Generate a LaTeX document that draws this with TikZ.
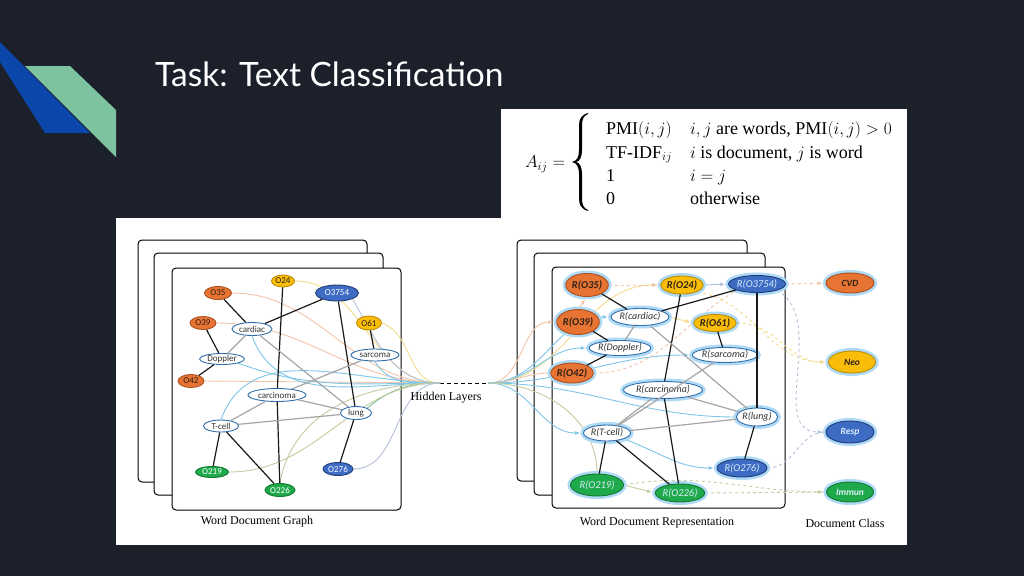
\documentclass[tikz,border=0pt]{standalone}
\usepackage{fontspec}
\setmainfont{Liberation Serif}
\newfontfamily\lato{Lato}
\newfontfamily\carlito{Carlito}
\usetikzlibrary{shapes.geometric,arrows.meta,backgrounds}

\definecolor{slidebg}{RGB}{27,32,43}
\definecolor{decoblue}{RGB}{11,71,170}
\definecolor{decogreen}{RGB}{125,195,160}
\definecolor{orangeF}{RGB}{232,116,52}
\definecolor{orangeD}{RGB}{170,80,30}
\definecolor{yellowF}{RGB}{250,190,10}
\definecolor{yellowD}{RGB}{190,140,0}
\definecolor{blueF}{RGB}{62,108,196}
\definecolor{blueD}{RGB}{30,60,120}
\definecolor{greenF}{RGB}{30,170,75}
\definecolor{greenD}{RGB}{20,120,50}
\definecolor{wordD}{RGB}{50,110,170}
\definecolor{glowc}{RGB}{175,218,246}
\definecolor{edgeK}{RGB}{25,25,25}
\definecolor{edgeG}{RGB}{165,165,165}
\definecolor{fPeach}{RGB}{242,196,170}
\definecolor{fYellow}{RGB}{245,220,140}
\definecolor{fBlue}{RGB}{125,198,232}
\definecolor{fOlive}{RGB}{196,204,160}
\definecolor{fGreen}{RGB}{125,192,152}
\definecolor{fSlate}{RGB}{178,192,218}
\definecolor{txtD}{RGB}{45,32,20}

\begin{document}
\begin{tikzpicture}
  [x=1pt,y=-1pt,every node/.style={inner sep=0pt},
   gnode/.style={ellipse,line width=0.9pt,font=\carlito\fontsize{9}{9}\selectfont},
   word/.style={gnode,draw=wordD,fill=white,text=black!80},
   orng/.style={gnode,draw=orangeD,fill=orangeF,text=txtD},
   yell/.style={gnode,draw=yellowD,fill=yellowF,text=txtD},
   blu/.style={gnode,draw=blueD,fill=blueF,text=white},
   grn/.style={gnode,draw=greenD,fill=greenF,text=white},
   rep/.style={preaction={draw=glowc,line width=6pt},font=\carlito\itshape\fontsize{10}{10}\selectfont},
   rcol/.style={font=\carlito\bfseries\itshape\fontsize{10.5}{10.5}\selectfont},
   rlit/.style={font=\carlito\itshape\fontsize{10.5}{10.5}\selectfont,text=glowc!45!white},
   sz/.style 2 args={minimum width=#1pt,minimum height=#2pt},
   blk/.style={draw=edgeK,line width=1.2pt},
   gry/.style={draw=edgeG,line width=1.2pt},
   flow/.style={line width=0.9pt},
   farr/.style={flow,shorten >=3pt,-{Latex[length=5pt,width=4pt]}},
   card/.style={draw,rounded corners=4pt,line width=1pt,fill=white},
   capt/.style={font=\fontsize{12}{12}\selectfont},
   frm/.style={anchor=base west,font=\fontsize{18}{20}\selectfont}]
  \useasboundingbox (0,0) rectangle (1024,576);

  % title and formula
  \node[anchor=base west,text=white,font=\lato\fontsize{33.5}{36}\selectfont] (title) at (155,86) {Task: Text Classification};
  \node[font=\fontsize{18}{20}\selectfont] (aij) at (545,164) {$A_{ij}=$};
  \node[frm] (r1a) at (606,134) {PMI$(i,j)$};
  \node[frm] (r1b) at (690,134) {$i,j$ are words, PMI$(i,j)>0$};
  \node[frm] (r2a) at (606,158) {TF-IDF$_{ij}$};
  \node[frm] (r2b) at (690,158) {$i$ is document, $j$ is word};
  \node[frm] (r3a) at (606,181) {1};
  \node[frm] (r3b) at (690,181) {$i=j$};
  \node[frm] (r4a) at (606,204) {0};
  \node[frm] (r4b) at (690,204) {otherwise};
  \fill (588,113) .. controls (581,115) and (579,119) .. (579,126) -- (579,150)
    .. controls (579,157) and (577,161) .. (572,162) .. controls (577,163) and (579,167) .. (579,174)
    -- (579,198) .. controls (579,205) and (581,209) .. (588,211)
    -- (588,210) .. controls (583,208) and (582,204) .. (582,198) -- (582,174)
    .. controls (582,167) and (580,163) .. (576,162) .. controls (580,161) and (582,157) .. (582,150)
    -- (582,126) .. controls (582,120) and (583,116) .. (588,114) -- cycle;

  % word document graph
  \node[yell,sz={23}{12}] (O24) at (283,281) {O24};
  \node[orng,sz={27}{13}] (O35) at (218,293) {O35};
  \node[blu,sz={43}{16}] (O3754) at (337,293) {O3754};
  \node[orng,sz={26}{13}] (O39) at (203,323) {O39};
  \node[word,sz={40}{13}] (cardiac) at (252,329) {cardiac};
  \node[yell,sz={25}{14}] (O61) at (369,323) {O61};
  \node[word,sz={48}{12}] (sarcoma) at (375,355) {sarcoma};
  \node[word,sz={45}{11}] (Doppler) at (222,359) {Doppler};
  \node[orng,sz={26}{13}] (O42) at (191,381) {O42};
  \node[word,sz={58}{13}] (carcinoma) at (277,395) {carcinoma};
  \node[word,sz={31}{13}] (lung) at (356,413) {lung};
  \node[word,sz={35}{12}] (Tcell) at (221,426) {T-cell};
  \node[grn,sz={33}{11}] (O219) at (212,472) {O219};
  \node[blu,sz={30}{13}] (O276) at (338,469) {O276};
  \node[grn,sz={30}{13}] (O226) at (280,490) {O226};
  \path[blk]
    (O35) edge (cardiac)
    (O3754) edge (cardiac)
    (O39) edge (Doppler)
    (Doppler) edge (O42)
    (O24) edge (carcinoma)
    (carcinoma) edge (O226)
    (O3754) edge (lung)
    (O61) edge (sarcoma)
    (lung) edge (O276)
    (Tcell) edge (O219)
    (Tcell) edge (O226);
  \path[gry]
    (cardiac) edge (Doppler)
    (cardiac) edge (lung)
    (sarcoma) edge (carcinoma)
    (carcinoma) edge (lung)
    (carcinoma) edge (Tcell)
    (Tcell) edge (lung);

  % word document representation
  \node[orng,rep,rcol,sz={39}{23}] (RO35) at (587,285) {R(O35)};
  \node[yell,rep,rcol,sz={38}{18}] (RO24) at (682,285) {R(O24)};
  \node[blu,rep,rlit,sz={46}{17}] (RO3754) at (757,284) {R(O3754)};
  \node[orng,rep,rcol,sz={36}{25}] (RO39) at (578,322) {R(O39)};
  \node[word,rep,sz={57}{17}] (Rcardiac) at (640,317) {R(cardiac)};
  \node[yell,rep,rcol,sz={37}{17}] (RO61) at (715,323) {R(O61)};
  \node[word,rep,sz={60}{15}] (RDoppler) at (620,348) {R(Doppler)};
  \node[word,rep,sz={64}{15}] (Rsarcoma) at (725,355) {R(sarcoma)};
  \node[orng,rep,rcol,sz={39}{20}] (RO42) at (572,373) {R(O42)};
  \node[word,rep,sz={79}{17}] (Rcarcinoma) at (663,390) {R(carcinoma)};
  \node[word,rep,sz={41}{18}] (Rlung) at (757,417) {R(lung)};
  \node[word,rep,sz={47}{16}] (RTcell) at (607,433) {R(T-cell)};
  \node[blu,rep,rlit,sz={50}{18}] (RO276) at (742,468) {R(O276)};
  \node[grn,rep,rlit,sz={53}{22}] (RO219) at (597,485) {R(O219)};
  \node[grn,rep,rlit,sz={47}{18}] (RO226) at (680,493) {R(O226)};
  \path[blk]
    (RO35) edge (Rcardiac)
    (Rcardiac) edge (RO3754)
    (RO39) edge (RDoppler)
    (RO42) edge (RDoppler)
    (RO24) edge (Rcarcinoma)
    (Rcarcinoma) edge (RO226)
    (RO3754) edge (Rlung)
    (RO61) edge (Rsarcoma)
    (Rlung) edge (RO276)
    (RTcell) edge (RO219)
    (RTcell) edge (RO226);
  \path[gry]
    (Rcardiac) edge (RDoppler)
    (Rcardiac) edge (Rlung)
    (Rsarcoma) edge (RTcell)
    (Rcarcinoma) edge (Rlung)
    (Rcarcinoma) edge (RTcell)
    (RTcell) edge (Rlung);

  % document classes
  \node[orng,rep,rcol,sz={48}{20},font=\carlito\bfseries\itshape\fontsize{9.5}{9.5}\selectfont] (CVD) at (850,283) {CVD};
  \node[yell,rep,rcol,sz={47}{22},font=\carlito\bfseries\itshape\fontsize{9.5}{9.5}\selectfont] (Neo) at (852,362) {Neo};
  \node[blu,rep,rlit,sz={48}{22},font=\carlito\bfseries\itshape\fontsize{9.5}{9.5}\selectfont] (Resp) at (850,432) {Resp};
  \node[grn,rep,rlit,sz={47}{20},font=\carlito\bfseries\itshape\fontsize{9.5}{9.5}\selectfont] (Immun) at (850,492) {Immun};

  % captions
  \coordinate (hl) at (440,383);
  \coordinate (hr) at (488,383);
  \node[capt] (hidden) at (446,398) {Hidden Layers};
  \node[capt] (capG) at (257,522) {Word Document Graph};
  \node[capt] (capR) at (657,523) {Word Document Representation};
  \node[capt] (capC) at (845,523) {Document Class};

  \begin{pgfonlayer}{background}
    \fill[slidebg] (0,0) rectangle (1024,576);
    \fill[decoblue] (0,42) -- (90,133) -- (45,133) -- (0,62) -- cycle;
    \fill[decogreen] (25,66) -- (70,66) -- (116,110) -- (116,157) -- cycle;
    \fill[white] (501,109) rectangle (907,218);
    \fill[white] (116,218) rectangle (907,545);
    % stacked layers
    \draw[card] (138,240) rectangle (367,482);
    \draw[card] (154,253) rectangle (383,495);
    \draw[card] (172,268) rectangle (401,510);
    \draw[card] (517,240) rectangle (747,481);
    \draw[card] (534,253) rectangle (765,495);
    \draw[card] (552,267) rectangle (785,508);
    \draw[dashed,line width=1pt,dash pattern=on 4pt off 3pt] (hl) -- (hr);
    % flows into the hidden layers
    \draw[flow,fYellow] (O24.east) to[out=0,in=180] (hl);
    \draw[flow,fPeach] (O35.east) to[out=0,in=180] (hl);
    \draw[flow,fPeach] (O39.east) to[out=0,in=180] (hl);
    \draw[flow,fPeach] (O42.east) -- (hl);
    \draw[flow,fSlate] (O3754.south east) to[out=-60,in=180] (hl);
    \draw[flow,fYellow] (O61.east) to[out=-20,in=180] (hl);
    \draw[flow,fBlue] (cardiac.south) to[out=-70,in=180] (hl);
    \draw[flow,fBlue] (Doppler.south east) to[out=-20,in=180] (hl);
    \draw[flow,fBlue] (sarcoma.south) to[out=-60,in=180] (hl);
    \draw[flow,fBlue] (Tcell.north) to[out=70,in=180] (hl);
    \draw[flow,fGreen] (lung.north east) to[out=40,in=180] (hl);
    \draw[flow,fOlive] (O219.east) to[out=0,in=180] (hl);
    \draw[flow,fOlive] (O226.north) to[out=80,in=180] (hl);
    \draw[flow,fSlate] (O276.east) to[out=0,in=180] (hl);
    % flows out of the hidden layers
    \draw[farr,fPeach] (hr) to[out=0,in=180] (RO39.west);
    \draw[farr,fYellow] (hr) to[out=0,in=180] (RO24.west);
    \draw[farr,fBlue] (hr) to[out=0,in=180] (Rcardiac.west);
    \draw[farr,fBlue] (hr) to[out=0,in=180] (RDoppler.west);
    \draw[flow,fPeach] (hr) to[out=0,in=180] (RO42.west);
    \draw[farr,fBlue] (hr) to[out=0,in=180] (Rsarcoma.west);
    \draw[flow,fBlue] (hr) to[out=0,in=180] (Rlung.west);
    \draw[farr,fBlue] (hr) to[out=0,in=180] (RTcell.west);
    \draw[flow,fOlive] (hr) to[out=0,in=90] (RO219.north);
    % messages inside the representation
    \draw[farr,fPeach] (RO39.north) -- (RO35.south);
    \draw[farr,fPeach,dashed] (RO35.east) -- (RO24.west);
    \draw[farr,fSlate] (RO24.east) -- (RO3754.west);
    \draw[farr,fYellow] (Rcardiac.east) -- (RO61.west);
    \draw[flow,fPeach,dashed] (RO42.east) to[out=0,in=210] (RO3754.south west);
    \draw[farr,fBlue] (RTcell.south east) to[out=-20,in=180] (RO276.west);
    \draw[farr,fOlive] (RO219.east) -- (RO226.west);
    % to the document classes
    \draw[farr,fPeach,dashed] (RO3754.east) -- (CVD.west);
    \draw[farr,fYellow,dashed] (RO61.east) to[out=0,in=180] (Neo.west);
    \draw[farr,fYellow,dashed] (RO24.south east) to[out=-10,in=180] (Neo.west);
    \draw[farr,fSlate,dashed] (RO3754.south east) to[out=-30,in=180] (Resp.west);
    \draw[flow,fSlate,dashed] (RO276.east) to[out=0,in=180] (Resp.west);
    \draw[farr,fOlive,dashed] (RO226.east) -- (Immun.west);
    \draw[flow,fOlive,dashed] (RO219.east) to[out=10,in=180] (Immun.west);
  \end{pgfonlayer}
\end{tikzpicture}
\end{document}
